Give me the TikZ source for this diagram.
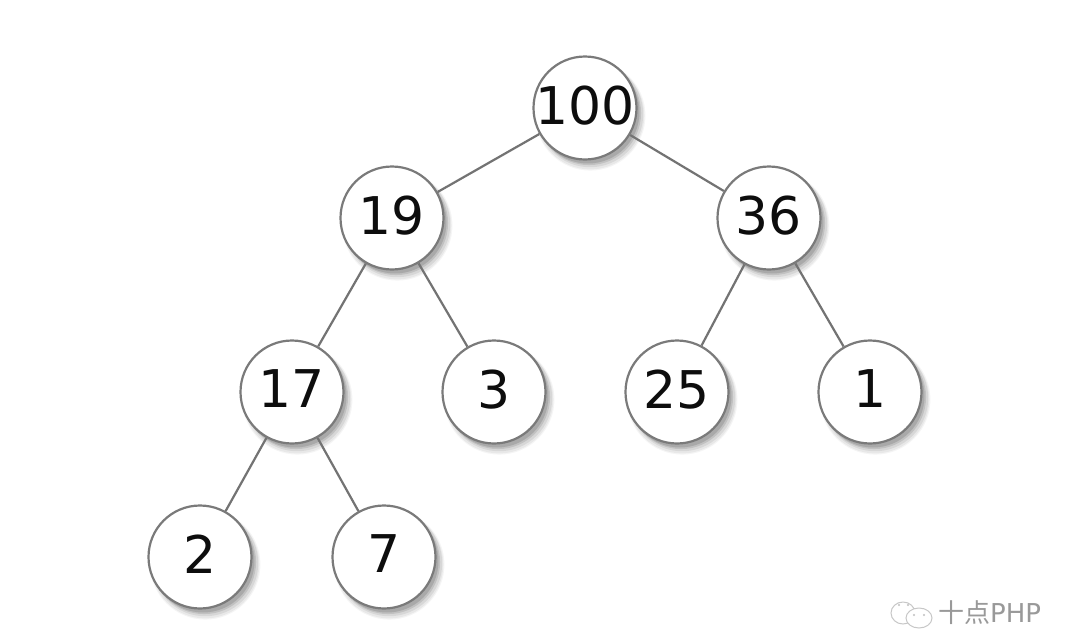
\documentclass[tikz,border=0pt]{standalone}
\usepackage{fontspec}
\setmainfont{DejaVu Sans}
\newfontfamily\cjkfont{Noto Sans CJK SC}
\usetikzlibrary{shadows}
\tikzset{
  heapnode/.style={circle,draw=black!52,line width=2.2pt,fill=white,minimum size=103pt,inner sep=0pt,
    font=\fontsize{52}{60}\selectfont,text=black!95,text depth=6pt,
    general shadow={shadow xshift=5pt,shadow yshift=-7pt,shadow scale=1.07,fill=black,fill opacity=.04},
    general shadow={shadow xshift=5pt,shadow yshift=-7pt,shadow scale=1.05,fill=black,fill opacity=.05},
    general shadow={shadow xshift=5pt,shadow yshift=-6pt,shadow scale=1.03,fill=black,fill opacity=.07},
    general shadow={shadow xshift=4pt,shadow yshift=-5pt,shadow scale=1.01,fill=black,fill opacity=.1},
    general shadow={shadow xshift=3pt,shadow yshift=-4pt,fill=black,fill opacity=.12}},
  heapedge/.style={draw=black!55,line width=2.2pt},
  markline/.style={draw=black!22,line width=1pt}
}
\begin{document}
\begin{tikzpicture}[x=1pt,y=-1pt]
  \useasboundingbox[fill=white] (0,0) rectangle (1080,630);

  \node[heapnode] (n100) at (585,108) {\makebox[0pt]{100}};
  \node[heapnode] (n19) at (392,218) {19};
  \node[heapnode] (n36) at (769,218) {36};
  \node[heapnode] (n17) at (292,392) {17};
  \node[heapnode] (n3) at (494,392) {3};
  \node[heapnode] (n25) at (677,392) {25};
  \node[heapnode] (n1) at (870,392) {1};
  \node[heapnode] (n2) at (200,557) {2};
  \node[heapnode] (n7) at (384,557) {7};

  \path[heapedge] (n100) edge (n19)
                         edge (n36)
                  (n19) edge (n17)
                        edge (n3)
                  (n36) edge (n25)
                        edge (n1)
                  (n17) edge (n2)
                        edge (n7);

  % watermark
  \draw[markline] (903,613) ellipse [x radius=12pt,y radius=11pt];
  \draw[markline,fill=white] (919,618) ellipse [x radius=13pt,y radius=10pt];
  \fill[black!25] (899,605) circle (1.2pt) (908,605) circle (1.2pt)
                  (914,615) circle (1.2pt) (924,615) circle (1.2pt);
  \node[text=black!40,anchor=west,inner sep=0pt,font=\fontsize{26}{30}\selectfont] (mark) at (938,613)
    {{\cjkfont 十点}PHP};
\end{tikzpicture}
\end{document}
